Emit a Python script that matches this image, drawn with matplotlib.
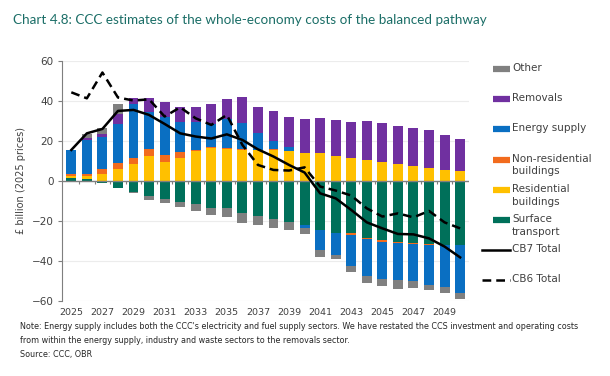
import numpy as np
import matplotlib
matplotlib.use("Agg")
import matplotlib.pyplot as plt
from matplotlib.lines import Line2D

years = list(range(2025, 2051))
tick_years = list(range(2025, 2050, 2))

# £ billion (2025 prices), signed
surface_transport = [1.5, 0.8, -1.0, -3.3, -5.5, -7.5, -8.8, -10.5, -11.5, -13.3, -13.7, -16.2, -17.5,
                     -18.8, -20.3, -22.0, -24.5, -25.8, -26.2, -28.3, -29.5, -30.3, -30.8, -31.5, -32.0, -32.0]
residential = [1.2, 1.5, 3.5, 6.0, 8.5, 12.5, 9.5, 11.3, 15.0, 16.5, 16.0, 15.6, 15.3,
               15.6, 14.8, 14.2, 13.8, 12.5, 11.3, 10.5, 9.7, 8.5, 7.5, 6.3, 5.5, 5.2]
non_residential = [0.8, 1.0, 2.5, 2.8, 3.0, 3.3, 3.5, 3.0, 0.5, 0.3, 0.5, 0.2, 0.2,
                   0.2, 0.2, 0.0, 0.0, 0.0, -0.8, -0.9, -0.8, -0.9, -0.7, -0.5, 0.0, 0.0]
energy_supply = [12.0, 17.2, 15.8, 19.7, 27.0, 18.9, 19.2, 15.4, 14.2, 11.7, 14.3, 13.0, 8.3,
                 4.2, 2.2, -1.3, -10.0, -11.2, -15.5, -18.1, -18.9, -18.3, -18.7, -20.0, -21.2, -24.2]
removals = [0.0, 1.0, 1.5, 5.0, 3.0, 7.0, 7.5, 7.5, 7.5, 9.8, 10.2, 13.0, 13.4,
            15.0, 14.8, 16.6, 17.9, 18.0, 18.4, 19.7, 19.1, 19.0, 19.2, 19.2, 17.5, 15.8]
other = [0.0, 2.0, 3.4, 4.8, -0.7, -2.0, -2.4, -2.5, -3.5, -3.7, -4.1, -4.6, -4.5,
         -4.9, -4.4, -3.4, -3.3, -2.0, -2.8, -3.5, -3.3, -4.5, -3.1, -2.5, -3.0, -3.0]

cb7_total = [15.5, 23.8, 26.0, 35.0, 35.5, 33.0, 28.5, 23.8, 22.2, 21.2, 23.3, 20.5, 15.8,
             12.2, 8.0, 4.2, -6.2, -8.7, -14.5, -20.7, -23.7, -26.5, -26.7, -28.7, -32.8, -38.2]
cb6_total = [44.3, 41.3, 54.2, 41.7, 40.2, 40.8, 32.2, 36.8, 31.3, 28.0, 33.0, 18.0, 8.0,
             5.5, 5.2, 6.8, -2.8, -4.8, -7.3, -13.7, -17.8, -16.2, -18.2, -15.0, -20.7, -23.7]

series = [
    ("Surface\ntransport", surface_transport, "#00705a"),
    ("Residential\nbuildings", residential, "#ffc000"),
    ("Non-residential\nbuildings", non_residential, "#f26b1d"),
    ("Energy supply", energy_supply, "#0a6fc2"),
    ("Removals", removals, "#7030a0"),
    ("Other", other, "#808080"),
]

txt = "#404040"
fig = plt.figure(figsize=(6.1, 3.76), dpi=100)
ax = fig.add_axes([0.1016, 0.1995, 0.668, 0.6385])

x = np.arange(len(years))
pos = np.zeros(len(years))
neg = np.zeros(len(years))
for name, vals, col in series:
    v = np.array(vals)
    bottom = np.where(v >= 0, pos, neg)
    ax.bar(x, v, 0.64, bottom=bottom, color=col, linewidth=0, zorder=2)
    pos = pos + np.where(v >= 0, v, 0)
    neg = neg + np.where(v < 0, v, 0)

ax.plot(x, cb7_total, color="black", lw=1.8, zorder=4)
ax.plot(x, cb6_total, color="black", lw=1.8, ls=(0, (3.5, 2)), zorder=4)

ax.axhline(0, color="#7f7f7f", lw=1.0, zorder=3)
ax.vlines(x[:-1] + 0.5, -1.3, 0, color="#7f7f7f", lw=0.8, zorder=3)

ax.set_ylim(-60, 60)
ax.set_xlim(-0.6, len(years) - 0.4)
ax.set_yticks(range(-60, 61, 20))
for yv in range(-60, 61, 20):
    if yv != 0:
        ax.axhline(yv, color="#ececec", lw=0.8, zorder=0)
ax.set_xticks([years.index(y) for y in tick_years])
ax.set_xticklabels([str(y) for y in tick_years])
ax.tick_params(axis="x", length=0, pad=5, labelsize=6.8, labelcolor=txt)
ax.tick_params(axis="y", length=3, color="#7f7f7f", labelsize=7.5, labelcolor=txt, pad=3)
for s in ["top", "right", "bottom"]:
    ax.spines[s].set_visible(False)
ax.spines["left"].set_color("#7f7f7f")
ax.set_ylabel("£ billion (2025 prices)", fontsize=7, color=txt, labelpad=4)

# legend on the right
leg = [("Other", "#808080", "-"), ("Removals", "#7030a0", "-"), ("Energy supply", "#0a6fc2", "-"),
       ("Non-residential\nbuildings", "#f26b1d", "-"), ("Residential\nbuildings", "#ffc000", "-"),
       ("Surface\ntransport", "#00705a", "-"), ("CB7 Total", "black", "line"), ("CB6 Total", "black", "dash")]
y0 = 69
for i, (lab, col, kind) in enumerate(leg):
    yp = 1 - (y0 + i * 30.2) / 376
    if kind == "-":
        fig.add_artist(Line2D([493 / 610, 510 / 610], [yp, yp], color=col, lw=4.5, solid_capstyle="butt"))
    elif kind == "line":
        fig.add_artist(Line2D([482 / 610, 510 / 610], [yp, yp], color=col, lw=1.8))
    else:
        fig.add_artist(Line2D([482 / 610, 510 / 610], [yp, yp], color=col, lw=1.8, ls=(0, (3.5, 2))))
    fig.text(512 / 610, yp + 6 / 376, lab, fontsize=7.5, color=txt, va="top", ha="left", linespacing=1.35)

fig.text(13 / 610, 1 - 20 / 376, "Chart 4.8: CCC estimates of the whole-economy costs of the balanced pathway",
         fontsize=9.7, color="#1b6e67", family="Lato", va="center", ha="left")

note = ("Note: Energy supply includes both the CCC's electricity and fuel supply sectors. We have restated the CCS investment and operating costs\n"
        "from within the energy supply, industry and waste sectors to the removals sector.\n"
        "Source: CCC, OBR")
fig.text(20 / 610, 1 - 322 / 376, note, fontsize=5.8, color="#262626", va="top", ha="left", linespacing=1.75)

fig.savefig("out.png", dpi=100)
